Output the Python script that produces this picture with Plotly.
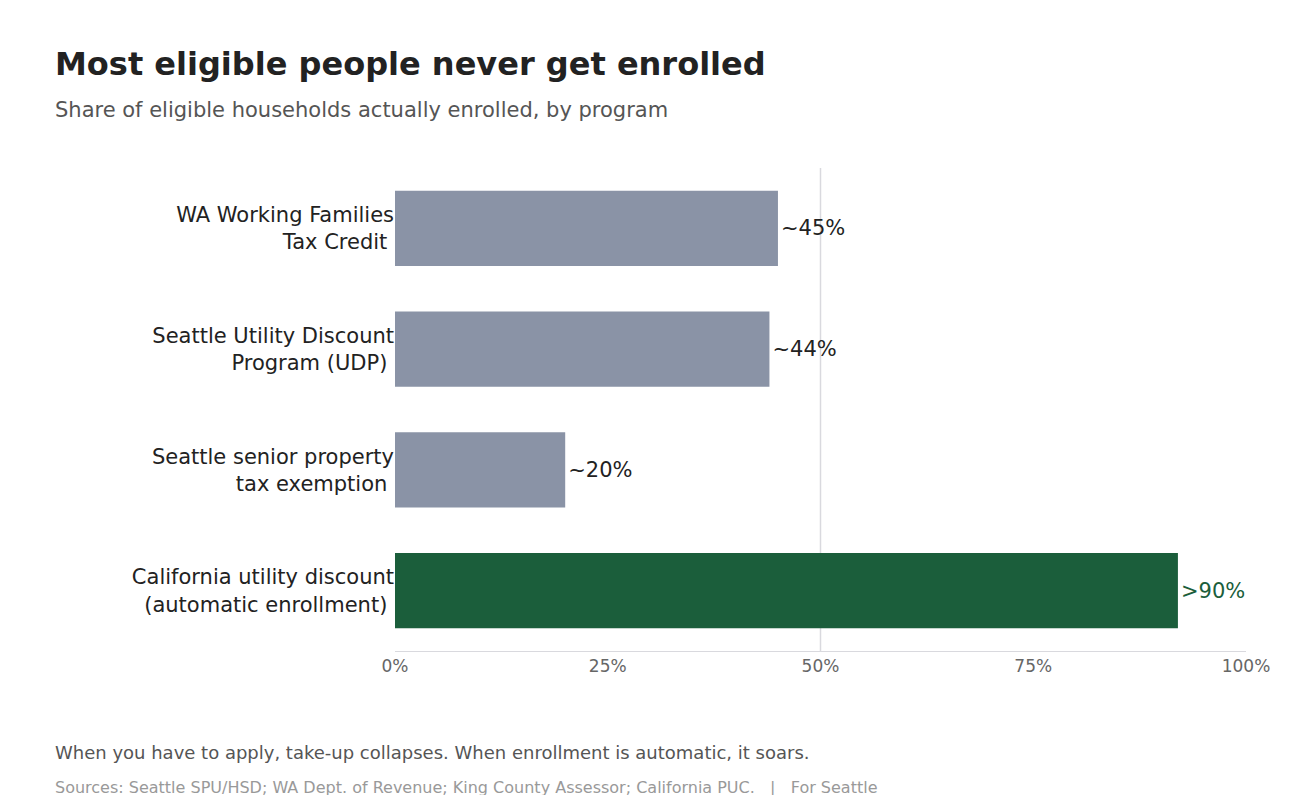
import plotly.graph_objects as go

programs = ["WA Working Families<br>Tax Credit", "Seattle Utility Discount<br>Program (UDP)",
            "Seattle senior property<br>tax exemption", "California utility discount<br>(automatic enrollment)"]
shares = [45, 44, 20, 92]
labels = ["~45%", "~44%", "~20%", ">90%"]
colors = ["#8a93a6", "#8a93a6", "#8a93a6", "#1b5e3b"]
label_colors = ["#222222", "#222222", "#222222", "#1b5e3b"]

fig = go.Figure(go.Bar(
    x=shares, y=programs, orientation="h",
    marker=dict(color=colors, line_width=0),
    text=labels, textposition="outside",
    textfont=dict(size=21, color=label_colors, family="DejaVu Sans"),
    cliponaxis=False,
))

fig.add_shape(type="line", x0=50, x1=50, y0=0, y1=1, yref="paper",
              line=dict(color="#d9d9de", width=1.5), layer="below")

L, R, T, B, W, H = 387, 52, 160, 152, 1290, 795

def px_to_paper(px, py):
    return (px - L) / (W - L - R), (H - B - py) / (H - T - B)

def note(text, px, py, size, color):
    x, y = px_to_paper(px, py)
    fig.add_annotation(text=text, x=x, y=y, xref="paper", yref="paper", showarrow=False,
                       xanchor="left", yanchor="middle", font=dict(size=size, color=color))

fig.update_layout(
    width=W, height=H,
    margin=dict(l=L, r=R, t=T, b=B),
    plot_bgcolor="white", paper_bgcolor="white",
    font=dict(family="DejaVu Sans", color="#222222"),
    showlegend=False,
    bargap=0.375,
    xaxis=dict(range=[0, 100], tickvals=[0, 25, 50, 75, 100],
               ticktext=["0%", "25%", "50%", "75%", "100%"],
               showgrid=False, zeroline=False, showline=True, linecolor="#d9d9de",
               tickfont=dict(size=17, color="#666666")),
    yaxis=dict(autorange="reversed", showgrid=False, zeroline=False,
               tickfont=dict(size=21, color="#222222"), ticksuffix=" "),
)

note("<b>Most eligible people never get enrolled</b>", 45, 56, 32, "#222222")
note("Share of eligible households actually enrolled, by program", 45, 102, 21, "#555555")
note("When you have to apply, take-up collapses. When enrollment is automatic, it soars.", 45, 744, 18, "#555555")
note("Sources: Seattle SPU/HSD; WA Dept. of Revenue; King County Assessor; California PUC.   |   For Seattle",
     45, 779, 16, "#999999")

fig.write_html("out.html")
